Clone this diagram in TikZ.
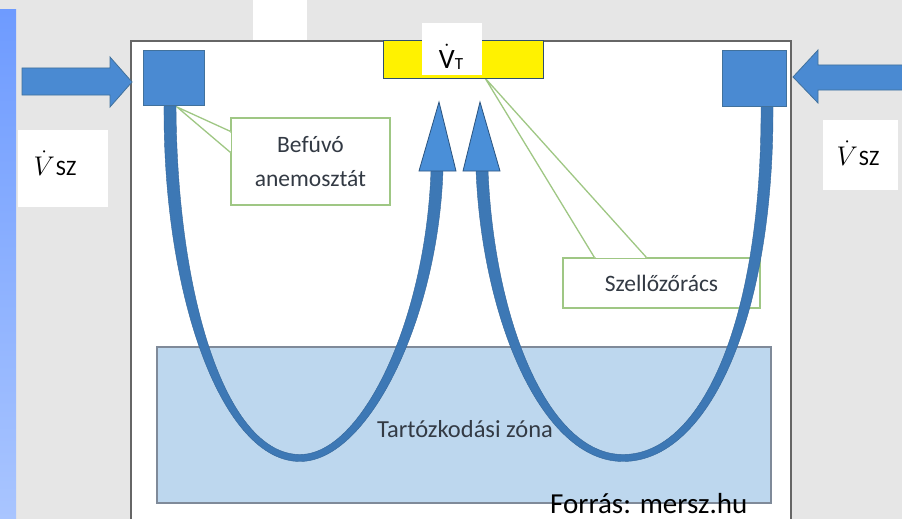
\RequirePackage{fix-cm}
\documentclass[tikz,border=0pt]{standalone}
\usepackage{fontspec}
\setmainfont{Carlito}
\usetikzlibrary{calc}
\definecolor{bggrey}{HTML}{E6E6E6}
\definecolor{stripA}{HTML}{6E9BFF}
\definecolor{stripB}{HTML}{A9C5FF}
\definecolor{duct}{HTML}{4A8AD2}
\definecolor{ductline}{HTML}{41719C}
\definecolor{flowblue}{HTML}{3D78B5}
\definecolor{headblue}{HTML}{4A8FD8}
\definecolor{zonefill}{HTML}{BDD7EE}
\definecolor{zoneline}{HTML}{7F8A99}
\definecolor{notegreen}{HTML}{9FC784}
\definecolor{labelink}{HTML}{333A44}
\newcommand\vdotsz{$\dot{V}$\kern1pt{\fontsize{22}{22}\selectfont SZ}}

\begin{document}
\begin{tikzpicture}[x=1pt,y=-1pt,
  notebox/.style={draw=notegreen,fill=white,line width=1.3pt,inner sep=0pt,text=labelink,font=\fontsize{23.5}{34}\selectfont,align=center},
  ductbox/.style={fill=duct,draw=ductline,line width=.8pt},
  flowband/.style={fill=flowblue,draw=flowblue!85!black,line width=.4pt},
  flowhead/.style={fill=headblue,draw=flowblue!70!black,line width=.8pt},
  vlabel/.style={inner sep=0pt,font=\fontsize{27}{27}\selectfont}]
\useasboundingbox (0,0) rectangle (902,519);
% backdrop
\fill[bggrey] (0,0) rectangle (902,519);
\shade[top color=stripA,bottom color=stripB] (0,10) rectangle (16,519);
\fill[white] (253,0) rectangle (307,40);
% room and zone
\filldraw[fill=white,draw=black!60,line width=1.2pt] (131,41) rectangle (791,530);
\node[draw=zoneline,fill=zonefill,line width=1.5pt,inner sep=0pt,minimum width=614,minimum height=156] (zone) at (464,425) {};
% callouts
\node[notebox,minimum width=159,minimum height=87] (befuvo) at (310.5,161.5) {Befúvó\\anemosztát};
\coordinate (befuvotip) at (177,107);
\path (befuvo.north west) ++(0,14) coordinate (bA) ++(0,21) coordinate (bB);
\fill[white] (bA) -- (befuvotip) -- (bB) -- cycle;
\draw[white,line width=2pt] ($(bA)+(0,1.5)$) -- ($(bB)-(0,1.5)$);
\draw[notegreen,line width=1.3pt] (bA) -- (befuvotip) -- (bB);
\node[notebox,minimum width=197,minimum height=50] (racs) at (661.5,283) {Szellőzőrács};
\coordinate (racstip) at (485,78);
\path (racs.north west) ++(32,0) coordinate (rA) ++(52,0) coordinate (rB);
\fill[white] (rA) -- (racstip) -- (rB) -- cycle;
\draw[white,line width=2pt] ($(rA)+(1.5,0)$) -- ($(rB)-(1.5,0)$);
\draw[notegreen,line width=1.3pt] (rA) -- (racstip) -- (rB);
% air paths
\filldraw[flowband] (164,106) .. controls (163,300) and (223,461.5) .. (300,461.5) .. controls (368,461.5) and (438,320) .. (443,170) -- (431,170) .. controls (426,320) and (362,454.5) .. (300,454.5) .. controls (227,454.5) and (177,300) .. (176,106) -- cycle;
\filldraw[flowband] (476,170) .. controls (482,320) and (542,461.5) .. (623,461.5) .. controls (708,461.5) and (774,320) .. (773,106) -- (761,106) .. controls (762,320) and (702,454.5) .. (623,454.5) .. controls (548,454.5) and (494,320) .. (488,170) -- cycle;
\filldraw[flowhead] (419,171) -- (439,102) -- (456,171) -- cycle;
\filldraw[flowhead] (463,171) -- (480,102) -- (500,171) -- cycle;
\node[text=labelink,font=\fontsize{24.5}{24.5}\selectfont] (zonetxt) at (465,429) {Tartózkodási zóna};
% inlets and outlet
\node[ductbox,inner sep=0pt,minimum width=61,minimum height=55] (inL) at (173.5,77.5) {};
\node[ductbox,inner sep=0pt,minimum width=64,minimum height=56] (inR) at (754,78) {};
\node[fill=yellow,draw=ductline!70!black,line width=1pt,inner sep=0pt,minimum width=160,minimum height=37] (grill) at (463,59.5) {};
\fill[white] (422,23) rectangle (482,75);
\node[inner sep=0pt] (vT) at (451,57) {{\fontsize{28}{28}\selectfont$\dot{\mbox{V}}$}{\fontsize{17}{17}\selectfont\raisebox{-1pt}{T}}};
\filldraw[ductbox] (22,68) -- (110,68) -- (110,57) -- (132,82) -- (110,107) -- (110,95) -- (22,95) -- cycle;
\filldraw[ductbox] (906,65) -- (818,65) -- (818,50) -- (793,77) -- (818,103) -- (818,90) -- (906,90) -- cycle;
% flow labels
\fill[white] (18,130) rectangle (108,207);
\fill[white] (823,120) rectangle (898,190);
\node[vlabel,anchor=base] (vszL) at (55,175) {\vdotsz};
\node[vlabel,anchor=base] (vszR) at (858,165) {\vdotsz};
\node[anchor=base west,inner sep=0pt,font=\fontsize{29}{29}\selectfont] (src) at (550,513) {Forrás: mersz.hu};
\end{tikzpicture}
\end{document}
